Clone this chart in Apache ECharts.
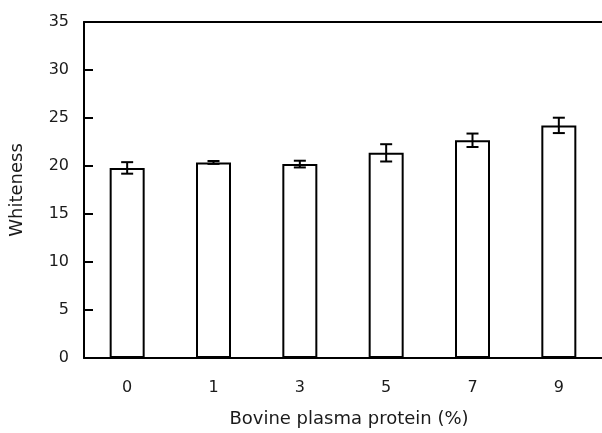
<!DOCTYPE html>
<html>
<head>
<meta charset="utf-8">
<script src="https://cdn.jsdelivr.net/npm/echarts@6/dist/echarts.min.js"></script>
<style>html,body{margin:0;padding:0;background:#fff;}#c{width:602px;height:433px;}</style>
</head>
<body>
<div id="c"></div>
<script>
var categories = ['0', '1', '3', '5', '7', '9'];
var whiteness = [19.8, 20.37, 20.2, 21.37, 22.68, 24.23];
var errors = [0.6, 0.15, 0.35, 0.9, 0.7, 0.8];
var yTicks = [0, 5, 10, 15, 20, 25, 30, 35];

var FONT = 'DejaVu Sans';
var chart = echarts.init(document.getElementById('c'));
var errData = categories.map(function (c, i) { return [i, whiteness[i] - errors[i], whiteness[i] + errors[i]]; });

chart.setOption({
  animation: false,
  backgroundColor: '#fff',
  grid: { left: 80, top: 22, right: -5, bottom: 72 },
  xAxis: [{
    type: 'category',
    data: categories,
    boundaryGap: true,
    axisLine: { lineStyle: { color: '#000', width: 2 } },
    axisTick: { inside: true, length: 5, lineStyle: { color: '#000', width: 2 } },
    axisLabel: { color: '#1a1a1a', fontFamily: FONT, fontSize: 16, margin: 22 },
    name: 'Bovine plasma protein (%)',
    nameLocation: 'middle',
    nameGap: 52,
    nameTextStyle: { color: '#1a1a1a', fontFamily: FONT, fontSize: 18, padding: [0, 0, 0, 12] }
  }, {
    type: 'category',
    data: categories,
    position: 'top',
    axisLine: { show: true, lineStyle: { color: '#000', width: 2 } },
    axisTick: { show: false },
    axisLabel: { show: false }
  }],
  yAxis: {
    type: 'value',
    min: yTicks[0],
    max: yTicks[yTicks.length - 1],
    interval: 5,
    splitLine: { show: false },
    axisLine: { show: true, lineStyle: { color: '#000', width: 2 } },
    axisTick: { show: true, inside: true, length: 9, lineStyle: { color: '#000', width: 2 } },
    axisLabel: { color: '#1a1a1a', fontFamily: FONT, fontSize: 16, margin: 15 },
    name: 'Whiteness',
    nameLocation: 'middle',
    nameGap: 58,
    nameTextStyle: { color: '#1a1a1a', fontFamily: FONT, fontSize: 18 }
  },
  series: [
    {
      type: 'bar',
      data: whiteness,
      barWidth: 35,
      itemStyle: { color: '#fff', borderColor: '#000', borderWidth: 2 }
    },
    {
      type: 'custom',
      data: errData,
      z: 10,
      renderItem: function (params, api) {
        var x = api.value(0);
        var lo = api.coord([x, api.value(1)]);
        var hi = api.coord([x, api.value(2)]);
        var hw = 6;
        var st = { stroke: '#000', lineWidth: 2 };
        return {
          type: 'group',
          children: [
            { type: 'line', shape: { x1: lo[0], y1: lo[1], x2: hi[0], y2: hi[1] }, style: st },
            { type: 'line', shape: { x1: lo[0] - hw, y1: lo[1], x2: lo[0] + hw, y2: lo[1] }, style: st },
            { type: 'line', shape: { x1: hi[0] - hw, y1: hi[1], x2: hi[0] + hw, y2: hi[1] }, style: st }
          ]
        };
      }
    }
  ]
});
</script>
</body>
</html>
